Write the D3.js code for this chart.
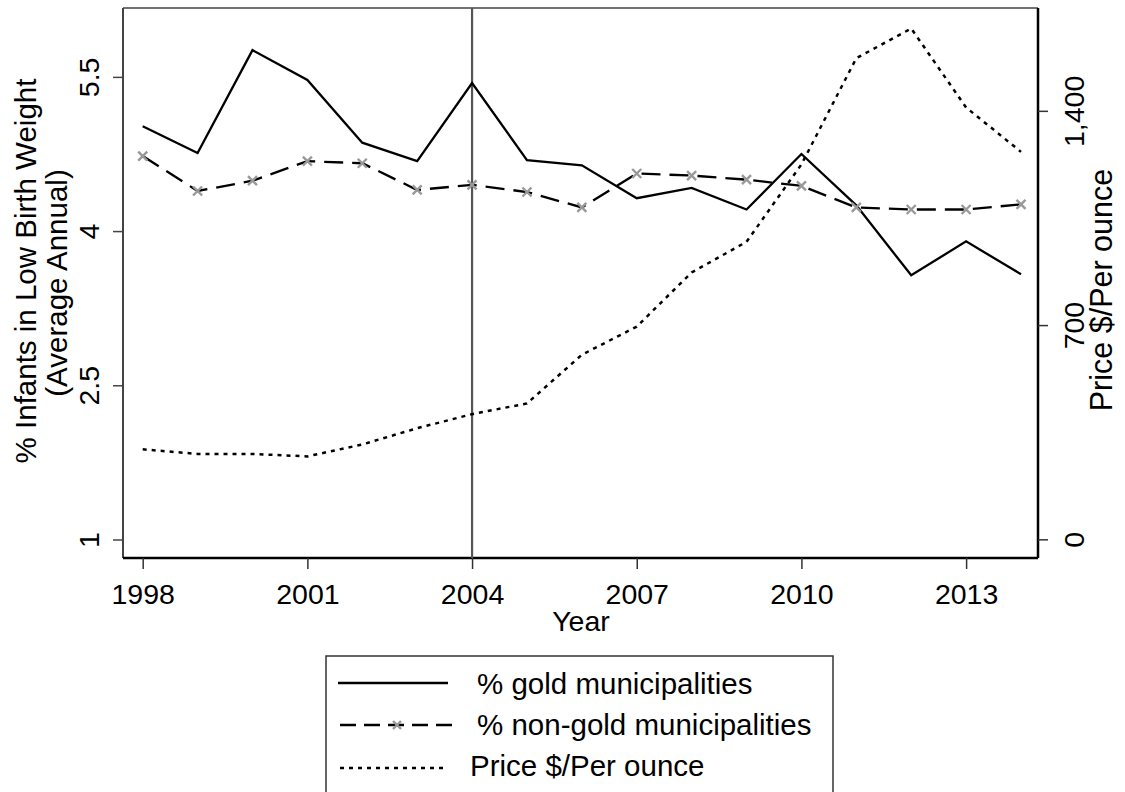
<!DOCTYPE html>
<html>
<head>
<meta charset="utf-8">
<script src="https://cdn.jsdelivr.net/npm/d3@7/dist/d3.min.js"></script>
<style>
  html, body { margin: 0; padding: 0; background: #fff; }
  svg { display: block; font-family: "Liberation Sans", Arial, sans-serif; }
</style>
</head>
<body>
<svg id="chart" width="1125" height="792"></svg>
<script>
// Years on the x axis
const years = [1998, 1999, 2000, 2001, 2002, 2003, 2004, 2005, 2006, 2007, 2008, 2009, 2010, 2011, 2012, 2013, 2014];

// % infants with low birth weight, gold-mining municipalities
const goldPct = [5.02, 4.76, 5.76, 5.47, 4.86, 4.68, 5.44, 4.69, 4.64, 4.32, 4.42, 4.21, 4.75, 4.25, 3.57, 3.90, 3.58];

// % infants with low birth weight, non-gold municipalities
const nonGoldPct = [4.73, 4.39, 4.49, 4.68, 4.66, 4.40, 4.45, 4.38, 4.23, 4.56, 4.54, 4.50, 4.44, 4.23, 4.21, 4.21, 4.26];

// Gold price, $ per ounce (annual average)
const goldPrice = [294, 279, 279, 271, 310, 363, 409, 444, 603, 695, 872, 972, 1225, 1572, 1669, 1411, 1266];

// Axis ticks
const xTicks = [1998, 2001, 2004, 2007, 2010, 2013];
const yLeftTicks = [1, 2.5, 4, 5.5];
const yRightTicks = [0, 700, 1400];
const markerYear = 2004;

const legendLabels = ["% gold municipalities", "% non-gold municipalities", "Price $/Per ounce"];

const svg = d3.select("#chart");

const plot = { left: 123, right: 1038, top: 8, bottom: 558 };

const x = d3.scaleLinear().domain([1998, 2014]).range([142.7, 1021]);
const yL = d3.scaleLinear().domain([0.82, 6.17]).range([plot.bottom, plot.top]);
const yR = d3.scaleLinear().domain([-61, 1736]).range([plot.bottom, plot.top]);

const fmtLeft = d => (d % 1 === 0 ? d3.format("d")(d) : d3.format(".1f")(d));
const fmtRight = d3.format(",");

// Plot frame: lighter top/left, heavier bottom/right
svg.append("line").attr("x1", plot.left).attr("x2", plot.right).attr("y1", plot.top).attr("y2", plot.top)
  .attr("stroke", "#444").attr("stroke-width", 1.5);

// Left axis
const leftAxis = svg.append("g").attr("transform", `translate(${plot.left},0)`)
  .call(d3.axisLeft(yL).tickValues(yLeftTicks).tickSize(10).tickFormat(fmtLeft));
leftAxis.select(".domain").attr("stroke", "#444").attr("stroke-width", 2)
  .attr("d", `M0,${plot.top}V${plot.bottom}`);
leftAxis.selectAll(".tick line").attr("stroke", "#444").attr("stroke-width", 1.5);
leftAxis.selectAll(".tick text")
  .attr("x", 0).attr("y", 0).attr("dy", 0)
  .attr("transform", "translate(-24,0) rotate(-90)")
  .attr("text-anchor", "middle")
  .attr("font-size", 28.5).attr("fill", "#000")
  .attr("font-family", "Liberation Sans, Arial, sans-serif");

// Right axis
const rightAxis = svg.append("g").attr("transform", `translate(${plot.right},0)`)
  .call(d3.axisRight(yR).tickValues(yRightTicks).tickSize(10).tickFormat(fmtRight));
rightAxis.select(".domain").attr("stroke", "#000").attr("stroke-width", 2.5)
  .attr("d", `M0,${plot.top}V${plot.bottom}`);
rightAxis.selectAll(".tick line").attr("stroke", "#333").attr("stroke-width", 1.5);
rightAxis.selectAll(".tick text")
  .attr("x", 0).attr("y", 0).attr("dy", 0)
  .attr("transform", "translate(46,0) rotate(-90)")
  .attr("text-anchor", "middle")
  .attr("font-size", 28.5).attr("fill", "#000")
  .attr("font-family", "Liberation Sans, Arial, sans-serif");

// Bottom axis
const bottomAxis = svg.append("g").attr("transform", `translate(0,${plot.bottom})`)
  .call(d3.axisBottom(x).tickValues(xTicks).tickSize(11).tickFormat(d3.format("d")));
bottomAxis.select(".domain").attr("stroke", "#000").attr("stroke-width", 2.5)
  .attr("d", `M${plot.left},0H${plot.right}`);
bottomAxis.selectAll(".tick line").attr("stroke", "#333").attr("stroke-width", 1.5);
bottomAxis.selectAll(".tick text")
  .attr("y", 46).attr("dy", 0)
  .attr("font-size", 28.5).attr("fill", "#000")
  .attr("font-family", "Liberation Sans, Arial, sans-serif");

// Axis titles
svg.append("text").attr("transform", "translate(36,271) rotate(-90)")
  .attr("text-anchor", "middle").attr("font-size", 29.5).text("% Infants in Low Birth Weight");
svg.append("text").attr("transform", "translate(67,283) rotate(-90)")
  .attr("text-anchor", "middle").attr("font-size", 29.5).text("(Average Annual)");
svg.append("text").attr("transform", "translate(1112,290) rotate(-90)")
  .attr("text-anchor", "middle").attr("font-size", 30.5).text("Price $/Per ounce");
svg.append("text").attr("x", 581).attr("y", 631)
  .attr("text-anchor", "middle").attr("font-size", 28.5).text("Year");

// Reference line at 2004
svg.append("line")
  .attr("x1", x(markerYear)).attr("x2", x(markerYear))
  .attr("y1", plot.top).attr("y2", plot.bottom)
  .attr("stroke", "#555").attr("stroke-width", 2.2);

// Series
const goldLine = d3.line().x((d, i) => x(years[i])).y(d => yL(d));
const priceLine = d3.line().x((d, i) => x(years[i])).y(d => yR(d));

svg.append("path").datum(goldPrice).attr("d", priceLine)
  .attr("fill", "none").attr("stroke", "#000").attr("stroke-width", 2.5)
  .attr("stroke-dasharray", "4,5");

svg.append("path").datum(nonGoldPct).attr("d", goldLine)
  .attr("fill", "none").attr("stroke", "#000").attr("stroke-width", 2.3)
  .attr("stroke-dasharray", "19,9");

svg.append("path").datum(goldPct).attr("d", goldLine)
  .attr("fill", "none").attr("stroke", "#000").attr("stroke-width", 2.3);

// X markers on non-gold series
const xMark = (g, cx, cy, r) => {
  g.append("path")
    .attr("d", `M${cx - r},${cy - r}L${cx + r},${cy + r}M${cx - r},${cy + r}L${cx + r},${cy - r}`)
    .attr("stroke", "#999").attr("stroke-width", 2.4).attr("fill", "none");
};
const markers = svg.append("g");
nonGoldPct.forEach((d, i) => xMark(markers, x(years[i]), yL(d), 4.5));

// Legend
const lg = svg.append("g");
lg.append("rect").attr("x", 326).attr("y", 656).attr("width", 507).attr("height", 150)
  .attr("fill", "#fff").attr("stroke", "#333").attr("stroke-width", 1.5);

const rowY = [683, 725, 768];
const textY = [694, 735, 776];
const textX = [477, 477, 470];

lg.append("line").attr("x1", 338).attr("x2", 448).attr("y1", rowY[0]).attr("y2", rowY[0])
  .attr("stroke", "#000").attr("stroke-width", 2.3);
lg.append("line").attr("x1", 340).attr("x2", 455).attr("y1", rowY[1]).attr("y2", rowY[1])
  .attr("stroke", "#000").attr("stroke-width", 2.3).attr("stroke-dasharray", "16,8");
xMark(lg, 397, rowY[1], 4);
lg.append("line").attr("x1", 340).attr("x2", 448).attr("y1", rowY[2]).attr("y2", rowY[2])
  .attr("stroke", "#000").attr("stroke-width", 2.3).attr("stroke-dasharray", "4,5");

legendLabels.forEach((t, i) => {
  lg.append("text").attr("x", textX[i]).attr("y", textY[i]).attr("font-size", 29.5).text(t);
});
</script>
</body>
</html>
